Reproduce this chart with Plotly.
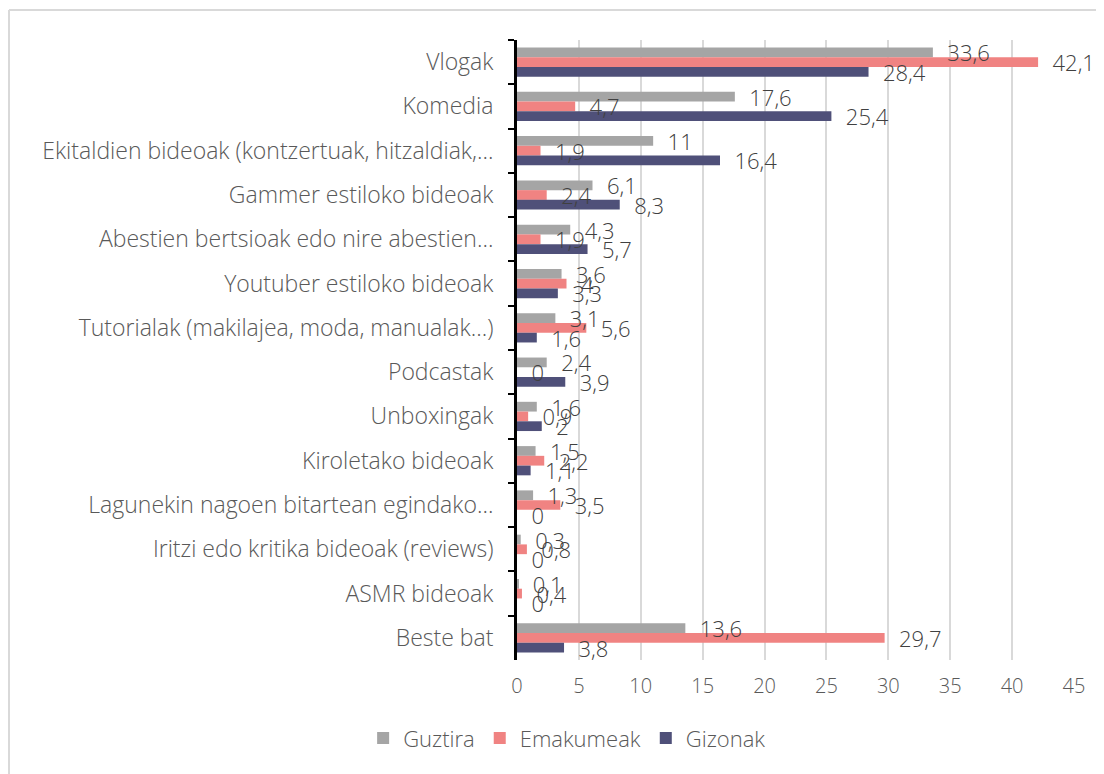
import plotly.graph_objects as go

categories = [
    "Vlogak",
    "Komedia",
    "Ekitaldien bideoak (kontzertuak, hitzaldiak,…",
    "Gammer estiloko bideoak",
    "Abestien bertsioak edo nire abestien…",
    "Youtuber estiloko bideoak",
    "Tutorialak (makilajea, moda, manualak…)",
    "Podcastak",
    "Unboxingak",
    "Kiroletako bideoak",
    "Lagunekin nagoen bitartean egindako…",
    "Iritzi edo kritika bideoak (reviews)",
    "ASMR bideoak",
    "Beste bat",
]
guztira = [33.6, 17.6, 11, 6.1, 4.3, 3.6, 3.1, 2.4, 1.6, 1.5, 1.3, 0.3, 0.1, 13.6]
emakumeak = [42.1, 4.7, 1.9, 2.4, 1.9, 4, 5.6, 0, 0.9, 2.2, 3.5, 0.8, 0.4, 29.7]
gizonak = [28.4, 25.4, 16.4, 8.3, 5.7, 3.3, 1.6, 3.9, 2, 1.1, 0, 0, 0, 3.8]
x_ticks = [0, 5, 10, 15, 20, 25, 30, 35, 40, 45]

series = [
    ("Guztira", guztira, "#A5A5A5"),
    ("Emakumeak", emakumeak, "#F08382"),
    ("Gizonak", gizonak, "#4F5079"),
]

FONT = "Open Sans"
W_PLOT = 557
H_PLOT = 620
fig = go.Figure()
# bars
for name, vals, color in series:
    fig.add_trace(go.Bar(
        y=categories, x=vals, name=name, orientation="h", offsetgroup=name,
        marker=dict(color=color, line=dict(width=0)),
    ))
# data labels drawn on top of all bars (transparent copies in same slots)
for name, vals, color in series:
    fig.add_trace(go.Bar(
        y=categories, x=vals, name=name, orientation="h", offsetgroup=name,
        marker=dict(color="rgba(0,0,0,0)", line=dict(width=0)),
        showlegend=False, hoverinfo="skip",
        text=["\u00a0\u00a0" + f"{v:g}".replace(".", ",") for v in vals],
        textposition="outside", cliponaxis=False,
        textfont=dict(family=FONT, size=22, color="#404040", weight=300),
    ))

fig.update_layout(
    width=1104, height=774,
    margin=dict(l=509, r=38, t=32, b=122),
    paper_bgcolor="white", plot_bgcolor="white",
    barmode="group", bargap=0.34, bargroupgap=0,
    separators=", ",
    uniformtext=dict(minsize=22, mode="show"),
    font=dict(family=FONT, color="#595959", weight=300),
    showlegend=True,
    legend=dict(orientation="h", x=0.09, xanchor="center", y=-0.126, yanchor="middle",
                font=dict(family=FONT, size=22, color="#595959", weight=300),
                itemwidth=30, traceorder="normal"),
    xaxis=dict(range=[0, 45], tickvals=x_ticks, showgrid=True, gridcolor="#D9D9D9",
               gridwidth=1.5, zeroline=False, showline=False,
               tickfont=dict(family=FONT, size=20, color="#595959", weight=300), ticks="",
               ticklabelstandoff=12),
    yaxis=dict(autorange="reversed", showline=True, linecolor="black", linewidth=3,
               ticks="outside", ticklen=6, tickwidth=2, tickcolor="black",
               tickson="boundaries", showgrid=False,
               tickfont=dict(family=FONT, size=23, color="#595959", weight=300),
               ticklabelstandoff=16),
    shapes=[
        dict(type="line", xref="paper", yref="paper",
             x0=-508/W_PLOT, x1=-508/W_PLOT, y0=1 + 30/H_PLOT, y1=-122/H_PLOT,
             line=dict(color="#D9D9D9", width=2)),
        dict(type="line", xref="paper", yref="paper",
             x0=-508/W_PLOT, x1=1 + 38/W_PLOT, y0=1 + 30/H_PLOT, y1=1 + 30/H_PLOT,
             line=dict(color="#D9D9D9", width=2)),
    ],
)

fig.write_html("out.html")
